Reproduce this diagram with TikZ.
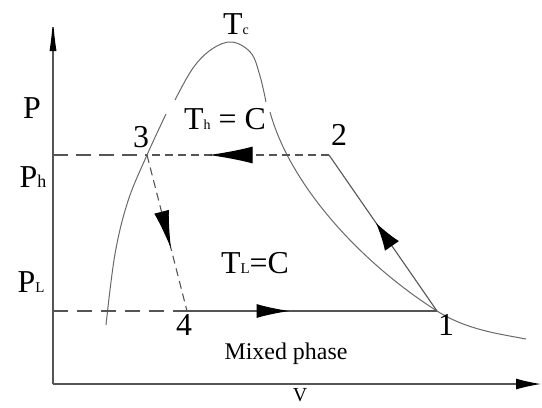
\documentclass[tikz,border=0pt]{standalone}
\usepackage{fontspec}
\setmainfont{Liberation Serif}
\usepackage{tikz}
\usetikzlibrary{calc, positioning, arrows.meta, decorations.markings}
\usepackage{xcolor}
\definecolor{cycleGray}{RGB}{85, 85, 85}
\definecolor{domeGray}{RGB}{105, 105, 105}
\newcommand{\lowsub}[2][14]{{\fontsize{#1}{#1}\selectfont #2}}

\begin{document}
\begin{tikzpicture}[x=1bp, y=-1bp, font=\fontsize{32}{32}\selectfont,
  midarrow/.style 2 args={postaction={decorate, decoration={markings,
      mark=at position #1 with {\arrow{#2}}}}}]
  \useasboundingbox (0,0) rectangle (542,407);

  % Axes
  \draw[cycleGray, line width=1.2bp, -{Latex[length=32bp, width=7bp, color=black]}]
    (53,384) -- (53,19);
  \draw[cycleGray, line width=1.2bp, -{Latex[length=25bp, width=11bp, color=black]}]
    (53,384) -- (541,384);

  % Cycle states
  \coordinate (p1) at (437,311);
  \coordinate (p2) at (329,155);
  \coordinate (p3) at (147,155);
  \coordinate (p4) at (187,311);
  \coordinate (ph) at (53,155);
  \coordinate (pl) at (53,311);

  % Saturation dome, broken around the T_h label
  \draw[domeGray, line width=1bp] plot[smooth, tension=0.6] coordinates
    {(106,325) (115,254) (128,201) (147,155) (166,114)};
  \draw[domeGray, line width=1bp] plot[smooth, tension=0.6] coordinates
    {(175,100) (193,68) (212,49) (232,42) (251,53) (260,76) (266,102)};
  \draw[domeGray, line width=1bp] (270,112) .. controls (290,185) and (360,262) .. (p1)
    .. controls (467,330) and (500,334) .. (526,339);

  % Pressure levels
  \draw[cycleGray, line width=1.1bp, dash pattern=on 15bp off 8bp] (ph) -- (p3);
  \draw[cycleGray, line width=1.1bp, dash pattern=on 15bp off 9bp] (pl) -- (p4);

  % Cycle 1-2-3-4
  \draw[cycleGray, line width=1.1bp,
    midarrow={0.565}{Latex[length=28bp, width=17bp, color=black]}] (p1) -- (p2);
  \draw[cycleGray, line width=1.1bp, dash pattern=on 8bp off 5bp,
    midarrow={0.661}{Latex[length=44bp, width=17bp, color=black]}] (p2) -- (p3);
  \draw[cycleGray, line width=1.1bp, dash pattern=on 8bp off 5bp,
    midarrow={0.60}{Latex[length=38bp, width=15bp, color=black]}] (p3) -- (p4);
  \draw[cycleGray, line width=1.1bp,
    midarrow={0.41}{Latex[length=33bp, width=14bp, color=black]}] (p4) -- (p1);

  % Labels
  \node (n1) at (446,325) {1};
  \node (n2) at (339,135) {2};
  \node (n3) at (141,137) {3};
  \node (n4) at (184,325) {4};
  \node (tc) at (236,24) {T\lowsub{c}};
  \node (th) at (225,119) {T\lowsub{h} = C};
  \node (tl) at (255,263) {T\lowsub[15]{L}=C};
  \node (pp) at (32,108) {P};
  \node (phl) at (33,177) {P\lowsub[18]{h}};
  \node (pll) at (31,282) {P\lowsub[15]{L}};
  \node[font=\fontsize{24}{24}\selectfont] (mix) at (286,354) {Mixed phase};
  \node[font=\fontsize{20}{20}\selectfont, inner sep=1bp] (vv) at (300,395) {V};
\end{tikzpicture}
\end{document}
